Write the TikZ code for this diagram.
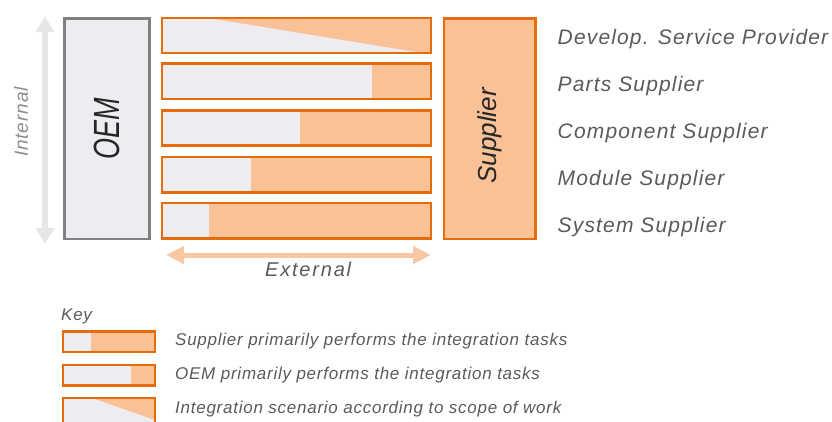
\documentclass[tikz,border=0pt]{standalone}
\usepackage{fontspec}
\setmainfont{Liberation Sans}
\newfontfamily\lblfont[LetterSpace=5.5]{Liberation Sans}
\newfontfamily\keyfont[LetterSpace=4.4]{Liberation Sans}
\newfontfamily\axisfont[LetterSpace=9]{Liberation Sans}
\newfontfamily\intfont[LetterSpace=4.5]{Liberation Sans}
\usetikzlibrary{arrows.meta}

\definecolor{orangeline}{RGB}{228,108,10}
\definecolor{orangefill}{RGB}{250,192,150}
\definecolor{grayfill}{RGB}{239,236,241}
\definecolor{oemline}{RGB}{128,128,128}
\definecolor{arrowgray}{RGB}{230,230,232}
\definecolor{arroworange}{RGB}{248,200,165}
\definecolor{textgray}{RGB}{90,90,90}
\definecolor{lightgraytext}{RGB}{140,140,140}

\tikzset{
  bar/.style={draw=orangeline, line width=2.5pt, fill=orangefill, inner sep=0pt,
    minimum width=268.8pt, minimum height=35.3pt},
  keybox/.style={draw=orangeline, line width=2.5pt, fill=orangefill, inner sep=0pt,
    minimum width=91.8pt, minimum height=20.8pt},
  oemshare/.style={path picture={\fill[grayfill]
    (path picture bounding box.north west) rectangle
    ([xshift=#1]path picture bounding box.south west);}},
  scopeshare/.style 2 args={path picture={\fill[grayfill]
    (path picture bounding box.north west) --
    ([xshift=#1]path picture bounding box.north west) --
    ([xshift=#2]path picture bounding box.south east) --
    (path picture bounding box.south west) -- cycle;}},
  scopesharetall/.style 2 args={path picture={\fill[grayfill]
    (path picture bounding box.north west) --
    ([xshift=#1]path picture bounding box.north west) --
    ([yshift=#2]path picture bounding box.north east) --
    (path picture bounding box.south east) --
    (path picture bounding box.south west) -- cycle;}},
  rowlabel/.style={anchor=base west, inner sep=0pt, text=textgray,
    font=\lblfont\itshape\fontsize{21}{21}\selectfont},
  keylabel/.style={anchor=base west, inner sep=0pt, text=textgray,
    font=\keyfont\itshape\fontsize{17}{17}\selectfont},
}

\begin{document}
\begin{tikzpicture}[x=1pt, y=-1pt]
  \useasboundingbox (0,0) rectangle (832,421);
  \clip (0,0) rectangle (832,421);

  % vertical "Internal" axis
  \coordinate (itop) at (45,16);
  \coordinate (ibot) at (45,244);
  \draw[arrowgray, line width=6pt,
        {Triangle[width=18pt,length=16pt]}-{Triangle[width=18pt,length=16pt]}]
        (itop) -- (ibot);
  \node[rotate=90, text=lightgraytext, inner sep=0pt,
        font=\intfont\itshape\fontsize{19}{19}\selectfont] (internal) at (21,122) {Internal};

  % OEM column
  \node[draw=oemline, line width=2.5pt, fill=grayfill, inner sep=0pt,
        minimum width=85pt, minimum height=220.5pt] (oem) at (106.85,128.5) {};
  \node at (oem.center) {\rotatebox{90}{\scalebox{1.0}[1.35]{\itshape\fontsize{27}{27}\selectfont\color{black!85}OEM}}};

  % integration rows
  \node[bar, scopeshare={45pt}{-8pt}] (r1) at (296.35,35.5) {};
  \node[bar, oemshare=210pt] (r2) at (296.35,81.2) {};
  \node[bar, oemshare=138pt] (r3) at (296.35,128) {};
  \node[bar, oemshare=89pt]  (r4) at (296.35,174.7) {};
  \node[bar, oemshare=47pt]  (r5) at (296.35,220.7) {};

  % Supplier column
  \node[draw=orangeline, line width=2.5pt, fill=orangefill, inner sep=0pt,
        minimum width=91.5pt, minimum height=220.5pt] (sup) at (489.5,128.5) {};
  \node at (489.7,136) {\rotatebox{90}{\itshape\fontsize{26}{26}\selectfont\color{black!85}Supplier}};

  % horizontal "External" axis
  \coordinate (eleft) at (166,255);
  \coordinate (eright) at (431,255);
  \draw[arroworange, line width=5pt,
        {Triangle[width=17pt,length=18pt]}-{Triangle[width=17pt,length=18pt]}]
        (eleft) -- (eright);
  \node[anchor=base west, inner sep=0pt, text=textgray,
        font=\axisfont\itshape\fontsize{20}{20}\selectfont] (external) at (265,276) {External};

  % supplier categories
  \node[rowlabel] (l1) at (557.5,44.4)  {Develop. Service Provider};
  \node[rowlabel] (l2) at (557.5,91.6)  {Parts Supplier};
  \node[rowlabel] (l3) at (557.5,138.4) {Component Supplier};
  \node[rowlabel] (l4) at (557.5,185.6) {Module Supplier};
  \node[rowlabel] (l5) at (557.5,232.4) {System Supplier};

  % key
  \node[anchor=base west, inner sep=0pt, text=textgray,
        font=\keyfont\itshape\fontsize{17}{17}\selectfont] (key) at (61,320) {Key};
  \node[keybox, oemshare=27.7pt] (k1) at (108.85,341.65) {};
  \node[keybox, oemshare=67.7pt] (k2) at (108.85,375.2) {};
  \node[keybox, minimum height=30pt, scopesharetall={28.7pt}{-22pt}] (k3) at (108.85,413) {};
  \node[keylabel] (t1) at (175,345.7) {Supplier primarily performs the integration tasks};
  \node[keylabel] (t2) at (175,379)   {OEM primarily performs the integration tasks};
  \node[keylabel] (t3) at (175,413.5) {Integration scenario according to scope of work};
\end{tikzpicture}
\end{document}
